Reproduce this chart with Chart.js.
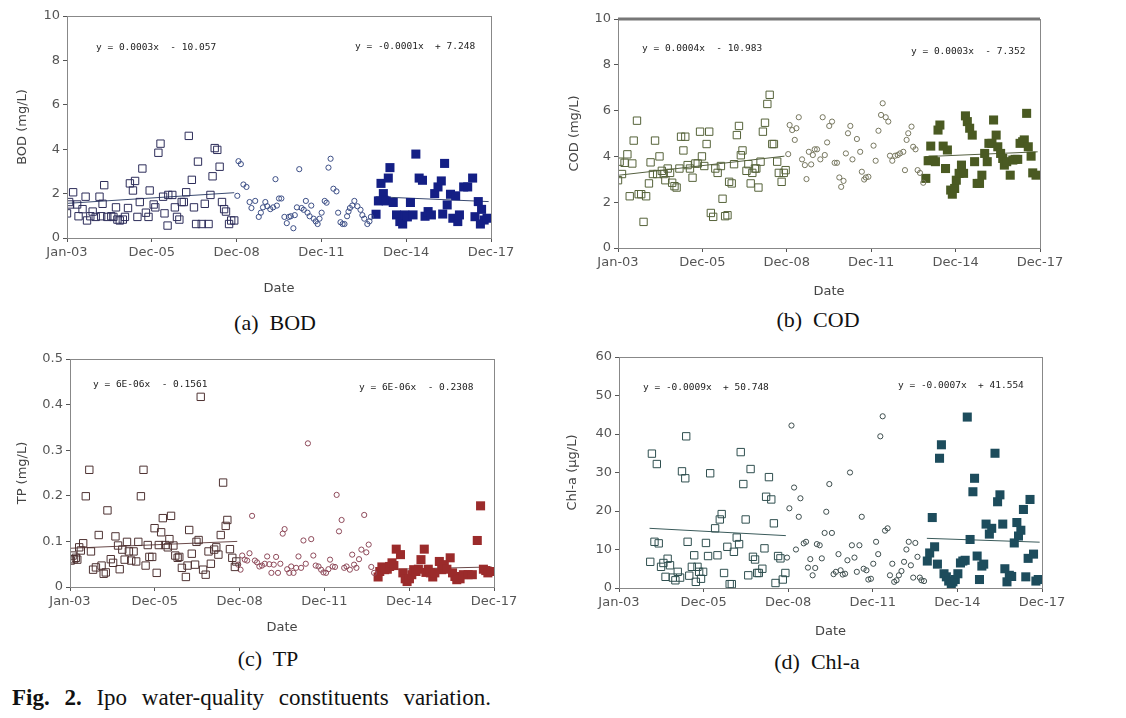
<!DOCTYPE html>
<html>
<head>
<meta charset="utf-8">
<script src="https://cdn.jsdelivr.net/npm/chart.js@4.4.1/dist/chart.umd.min.js"></script>
<style>
  body { margin: 0; background: #fff; width: 1126px; height: 718px; position: relative; overflow: hidden; }
  canvas { position: absolute; }
  .eq { position: absolute; font: 9.5px "DejaVu Sans Mono", monospace; color: #222; white-space: pre; }
  .cap { position: absolute; font: 22px "Liberation Serif", serif; color: #111; white-space: pre; transform: translateX(-50%); }
  .fig { position: absolute; left: 12px; top: 685px; font: 23px "Liberation Serif", serif; color: #111; word-spacing: 9px; white-space: nowrap; }
</style>
</head>
<body>
<canvas id="bod" width="530" height="300" style="left:0px;top:0px"></canvas>
<canvas id="cod" width="530" height="300" style="left:551px;top:0px"></canvas>
<canvas id="tp" width="530" height="300" style="left:3px;top:340px"></canvas>
<canvas id="chl" width="530" height="300" style="left:552px;top:340px"></canvas>

<div class="eq" style="left:96px;top:41px">y = 0.0003x  - 10.057</div>
<div class="eq" style="left:355px;top:40px">y = -0.0001x  + 7.248</div>
<div class="eq" style="left:642px;top:42px">y = 0.0004x  - 10.983</div>
<div class="eq" style="left:911px;top:45px">y = 0.0003x  - 7.352</div>
<div class="eq" style="left:93px;top:378px">y = 6E-06x  - 0.1561</div>
<div class="eq" style="left:359px;top:381px">y = 6E-06x  - 0.2308</div>
<div class="eq" style="left:643px;top:381px">y = -0.0009x  + 50.748</div>
<div class="eq" style="left:898px;top:379px">y = -0.0007x  + 41.554</div>

<div class="cap" style="left:275px;top:310px">(a)  BOD</div>
<div class="cap" style="left:818px;top:307px">(b)  COD</div>
<div class="cap" style="left:268px;top:646px">(c)  TP</div>
<div class="cap" style="left:817px;top:649px">(d)  Chl-a</div>
<div class="fig"><b>Fig. 2.</b> Ipo water-quality constituents variation.</div>

<script>
// x = months since Jan 2003; axis ticks every 36 months
const xTickPos = [0, 36, 72, 108, 144, 180];
const xTickLabels = ["Jan-03", "Dec-05", "Dec-08", "Dec-11", "Dec-14", "Dec-17"];

// BOD (mg/L): [month, value]
const bodPeriod1 = [[0,1.11],[0.9,1.62],[1.3,1.51],[2.6,2.06],[4.3,1.51],[4.9,0.98],[6.6,1.30],[7.9,1.86],[8.5,0.79],[9.9,0.98],[10.9,1.19],[12.2,0.95],[13.8,1.86],[14.5,0.98],[15.1,1.54],[15.8,2.38],[17.1,0.95],[18.8,0.98],[19.7,0.95],[20.8,1.38],[21.4,0.83],[22.4,0.79],[23.7,0.83],[24.6,0.95],[25.9,1.35],[26.7,2.46],[28.0,2.14],[28.9,2.57],[29.9,0.95],[30.9,1.62],[32.0,3.13],[33.5,1.14],[34.6,0.95],[35.1,2.14],[36.8,1.51],[37.5,1.38],[38.8,3.84],[39.7,4.25],[40.8,1.86],[41.4,1.11],[42.7,0.56],[43.0,1.94],[44.7,1.94],[45.8,1.38],[46.7,0.95],[47.7,0.83],[48.7,1.62],[49.6,1.62],[50.6,2.06],[51.7,4.60],[53.0,2.62],[53.9,1.38],[54.8,0.63],[55.6,3.44],[57.2,0.63],[58.5,1.54],[60.1,0.63],[60.9,1.94],[61.8,2.78],[62.7,4.05],[63.8,3.97],[64.8,3.21],[65.8,1.62],[66.7,1.30],[67.5,1.19],[68.8,0.63],[69.7,0.79],[71.0,0.79]];
const bodPeriod2 = [[72.3,1.90],[72.8,3.46],[73.8,3.33],[74.9,2.41],[76.2,2.30],[77.5,1.62],[78.3,1.35],[79.9,1.67],[81.4,0.95],[82.3,1.14],[83.2,1.38],[84.2,1.62],[85.0,1.43],[86.3,1.30],[87.5,1.38],[88.5,2.65],[89.1,1.46],[90.0,1.78],[91.0,1.78],[92.3,0.95],[93.3,0.67],[94.2,0.95],[95.0,0.98],[96.1,0.44],[96.7,1.03],[97.6,1.38],[98.6,3.10],[99.6,1.35],[100.5,1.27],[101.4,1.67],[102.1,1.14],[103.0,0.98],[103.7,1.46],[104.7,0.87],[105.6,0.75],[106.4,0.63],[107.2,0.87],[108.1,1.14],[109.4,1.67],[110.2,1.59],[111.0,3.17],[111.9,3.57],[113.1,2.22],[114.4,2.10],[115.1,1.14],[116.1,0.71],[117.0,0.63],[117.8,0.63],[118.9,0.98],[119.5,1.19],[120.1,1.35],[121.1,1.46],[122.0,1.67],[123.3,1.43],[124.6,1.27],[125.4,1.03],[126.2,0.87],[127.5,0.63],[128.4,0.75],[129.0,0.95]];
const bodPeriod3 = [[131.2,1.07],[132.2,1.67],[133.3,2.46],[134.3,2.0],[134.6,1.7],[135.5,1.67],[136.4,2.7],[137.1,3.17],[138.5,1.6],[139.9,1.04],[141.3,0.74],[142.5,0.63],[143.4,1.04],[144.5,0.95],[145.8,1.6],[146.9,1.04],[148.1,3.78],[149.5,2.7],[150.9,2.6],[152.0,0.98],[153.3,1.19],[154.7,1.04],[156.1,2.0],[157.5,2.3],[158.9,2.57],[159.5,1.08],[160.3,3.36],[161.4,1.49],[162.8,1.97],[163.8,0.89],[165.0,1.9],[165.9,0.74],[166.6,1.04],[168.4,2.3],[170.1,2.3],[172.2,2.7],[173.2,0.96],[174.6,1.64],[175.5,0.63],[176.0,1.29],[177.1,0.81],[178.3,0.89]];
const bodTrend1 = [[0,1.56],[71,2.04]];
const bodTrend2 = [[131,1.86],[179,1.64]];

// COD (mg/L)
const codPeriod1 = [[0,2.96],[0.7,3.77],[1.7,3.23],[2.8,3.72],[4.0,4.09],[5.0,2.26],[6.1,3.69],[6.7,4.69],[8.1,5.56],[8.8,2.35],[9.9,2.35],[10.9,1.14],[12.0,2.26],[13.2,2.82],[13.9,3.74],[14.9,3.23],[15.8,4.69],[16.7,3.23],[17.7,4.0],[18.7,3.37],[19.5,3.23],[20.2,2.96],[21.2,3.47],[22.2,3.28],[23.1,2.85],[24.1,2.7],[25.0,2.64],[26.2,3.47],[26.9,4.86],[27.9,4.26],[28.7,4.86],[29.7,3.62],[30.7,3.47],[31.8,3.07],[33.0,3.69],[34.0,3.69],[35.0,5.08],[35.8,4.0],[36.8,3.58],[37.8,4.54],[38.9,5.08],[39.6,1.53],[40.6,1.36],[41.5,3.47],[42.5,3.28],[43.9,3.58],[44.6,2.15],[45.7,1.39],[46.7,1.43],[47.4,2.89],[48.5,2.82],[49.5,3.66],[50.7,4.93],[51.6,5.33],[52.4,4.05],[53.1,4.26],[54.8,3.37],[55.6,3.66],[56.6,2.82],[57.3,3.28],[58.4,3.47],[59.0,3.47],[59.9,2.64],[60.8,3.77],[61.8,5.08],[62.7,5.47],[63.7,6.29],[64.7,6.69],[65.8,4.54],[66.5,4.54],[67.9,3.77],[68.6,3.28],[69.8,2.89],[70.7,3.28],[71.5,3.4]];
const codPeriod2 = [[72.6,4.1],[73.2,5.37],[74.3,5.15],[75.4,4.72],[76.1,5.23],[77.1,5.71],[78.5,3.87],[79.7,3.62],[80.4,3.01],[81.4,4.2],[82.4,3.65],[83.1,4.06],[83.9,4.31],[84.9,4.31],[86.3,3.87],[87.3,5.71],[88.2,4.06],[89.2,4.61],[90.1,5.33],[91.3,5.52],[92.4,3.72],[93.4,3.72],[94.4,3.08],[95.2,2.67],[96.2,2.93],[97.2,4.13],[98.1,5.01],[99.1,5.33],[100.0,3.87],[101.9,4.76],[103.3,4.2],[104.0,3.33],[105.0,2.99],[105.7,3.08],[106.8,3.11],[109.0,4.47],[109.9,3.81],[111.1,5.12],[112.2,5.81],[112.9,6.32],[114.2,5.71],[115.3,5.52],[116.0,4.03],[117.0,3.81],[118.2,4.03],[119.3,4.06],[120.3,4.13],[121.7,4.2],[122.4,3.4],[123.1,4.72],[123.8,5.01],[125.2,5.3],[125.9,4.42],[126.9,4.31],[127.8,3.4],[128.8,3.28],[130.2,2.85]];
const codPeriod3 = [[131.3,3.04],[132.3,3.81],[133.4,4.45],[134.4,3.84],[135.4,3.77],[136.5,5.15],[137.3,5.37],[138.7,4.45],[139.7,3.47],[140.5,4.28],[141.9,2.53],[142.6,2.35],[143.6,2.6],[144.3,2.96],[145.5,3.26],[146.5,3.62],[147.4,3.26],[148.2,5.77],[149.0,5.52],[150.0,5.23],[151.1,4.93],[152.1,3.77],[153.2,2.82],[154.2,2.82],[155.2,3.18],[156.4,4.13],[157.5,3.77],[158.2,4.57],[159.5,4.57],[160.2,5.59],[161.3,4.93],[162.0,4.42],[163.2,4.13],[164.1,3.91],[164.8,3.62],[165.8,3.77],[167.3,3.18],[168.4,3.84],[169.4,3.87],[170.5,3.87],[171.5,4.57],[172.6,4.64],[173.3,4.72],[174.3,5.88],[175.0,4.42],[176.2,4.01],[176.9,3.28],[178.3,3.18]];
const codTrend1 = [[0.5,3.18],[71,4.01]];
const codTrend2 = [[131,3.99],[179,4.2]];

// TP (mg/L)
const tpPeriod1 = [[0.3,0.058],[1.1,0.069],[1.7,0.061],[2.5,0.064],[3.1,0.060],[3.9,0.087],[4.6,0.080],[5.6,0.096],[6.7,0.199],[8.2,0.257],[8.9,0.078],[9.8,0.038],[11.0,0.043],[12.2,0.114],[13.4,0.047],[14.3,0.029],[15.2,0.032],[15.9,0.168],[17.3,0.061],[18.3,0.053],[19.3,0.111],[20.4,0.091],[21.1,0.039],[22.2,0.082],[23.2,0.060],[24.2,0.099],[25.0,0.078],[26.0,0.058],[27.0,0.078],[28.1,0.056],[29.0,0.099],[30.1,0.199],[31.2,0.257],[32.1,0.047],[33.0,0.092],[33.7,0.066],[34.9,0.066],[35.9,0.129],[36.8,0.031],[37.7,0.092],[38.7,0.120],[39.4,0.151],[40.5,0.092],[41.5,0.087],[42.2,0.105],[42.9,0.156],[43.9,0.091],[44.7,0.069],[45.7,0.064],[46.4,0.066],[47.5,0.042],[49.2,0.022],[49.9,0.047],[50.6,0.125],[51.7,0.073],[53.1,0.049],[53.7,0.099],[54.6,0.103],[55.5,0.417],[56.5,0.038],[57.6,0.027],[58.8,0.078],[59.8,0.051],[61.2,0.082],[62.1,0.087],[63.0,0.071],[64.0,0.114],[65.0,0.229],[66.1,0.134],[66.8,0.147],[67.9,0.083],[68.9,0.064],[70.0,0.044],[70.6,0.056]];
const tpPeriod2 = [[71.4,0.049],[72.4,0.038],[73.1,0.069],[74.2,0.060],[75.2,0.058],[76.2,0.074],[77.3,0.156],[78.5,0.058],[79.4,0.054],[80.4,0.045],[81.5,0.047],[82.7,0.051],[83.7,0.067],[84.6,0.050],[85.5,0.031],[86.5,0.049],[87.5,0.066],[88.3,0.031],[89.3,0.051],[90.3,0.117],[91.1,0.127],[92.2,0.039],[93.1,0.031],[93.9,0.045],[94.9,0.031],[96.0,0.042],[97.0,0.067],[98.1,0.042],[99.1,0.102],[100.1,0.051],[101.0,0.315],[102.4,0.105],[103.3,0.069],[104.3,0.047],[105.5,0.045],[106.6,0.038],[107.6,0.032],[108.7,0.031],[109.7,0.039],[110.4,0.060],[111.5,0.045],[112.5,0.044],[113.2,0.202],[114.2,0.122],[115.3,0.147],[116.4,0.042],[117.4,0.045],[118.8,0.038],[119.8,0.071],[120.6,0.049],[121.6,0.042],[122.7,0.061],[123.7,0.082],[124.9,0.158],[125.8,0.076],[126.8,0.093],[127.9,0.044],[129.1,0.031]];
const tpPeriod3 = [[130.8,0.022],[131.5,0.034],[132.4,0.044],[133.6,0.038],[134.7,0.039],[135.7,0.045],[136.7,0.053],[137.5,0.047],[138.5,0.083],[140.3,0.071],[141.3,0.031],[142.3,0.018],[143.1,0.012],[144.1,0.018],[145.1,0.027],[145.9,0.038],[146.9,0.034],[147.9,0.039],[149.0,0.060],[150.4,0.083],[151.1,0.032],[152.1,0.039],[153.0,0.031],[154.0,0.022],[154.9,0.031],[156.8,0.056],[157.8,0.038],[158.9,0.049],[160.0,0.039],[161.4,0.064],[162.4,0.031],[163.4,0.023],[164.2,0.016],[165.6,0.018],[167.0,0.027],[169.0,0.027],[170.8,0.027],[172.9,0.102],[174.3,0.178],[175.5,0.039],[176.5,0.036],[177.4,0.031],[178.6,0.034]];
const tpTrend1 = [[0.3,0.085],[71,0.100]];
const tpTrend2 = [[131,0.038],[179,0.044]];

// Chl-a (ug/L)
const chlPeriod1 = [[13.3,6.8],[14.0,34.9],[15.1,12.0],[16.1,32.2],[16.9,11.6],[17.9,5.5],[18.9,6.5],[19.8,2.9],[20.7,7.6],[21.7,5.9],[22.9,2.7],[24.0,2.0],[25.0,4.2],[26.0,2.7],[26.8,30.3],[28.2,28.5],[28.6,39.4],[29.2,12.0],[29.9,3.2],[31.0,5.5],[32.0,8.5],[32.7,1.6],[33.4,5.5],[34.1,4.2],[34.9,2.4],[35.8,4.2],[37.0,11.7],[37.9,8.3],[38.8,29.8],[40.9,15.5],[41.9,8.5],[42.9,17.8],[43.7,19.2],[44.7,3.9],[46.1,10.7],[47.1,1.0],[48.0,1.0],[48.9,9.4],[50.1,13.1],[51.1,11.4],[51.8,35.3],[52.9,27.0],[53.9,17.8],[55.0,3.3],[56.0,30.9],[57.0,8.1],[57.9,7.4],[58.8,3.9],[59.5,3.9],[61.0,5.0],[61.9,10.3],[62.6,23.7],[63.8,28.8],[64.8,23.0],[65.9,16.8],[66.6,1.3],[67.7,8.3],[68.7,7.7],[69.7,2.2],[70.8,3.9]];
const chlPeriod2 = [[71.5,7.9],[72.5,20.7],[73.4,42.2],[74.5,26.1],[75.3,10.0],[76.5,18.5],[77.2,23.3],[78.6,11.6],[79.6,12.0],[80.4,5.3],[81.4,7.5],[82.4,3.3],[83.5,5.2],[84.2,11.4],[85.4,11.1],[86.3,7.7],[87.5,14.3],[88.2,19.8],[89.5,27.0],[90.6,14.3],[91.3,3.6],[92.3,4.2],[93.4,8.8],[94.3,4.6],[95.2,3.5],[96.2,3.7],[97.2,7.2],[98.3,30.0],[99.1,11.1],[100.2,7.9],[101.2,4.2],[102.3,11.1],[103.3,18.5],[104.1,5.0],[105.3,4.6],[106.1,2.2],[107.2,2.4],[108.2,6.3],[109.4,12.0],[110.3,8.8],[111.2,39.4],[112.2,44.6],[113.2,14.9],[114.3,15.5],[115.3,3.3],[116.3,6.3],[117.1,1.6],[118.1,2.0],[119.1,3.3],[120.2,4.4],[121.3,6.8],[122.3,10.0],[123.3,12.0],[124.2,5.9],[125.2,2.7],[126.1,11.7],[127.0,8.1],[128.0,2.7],[128.7,2.0],[129.8,1.8]];
const chlPeriod3 = [[131.2,7.0],[132.2,9.1],[133.3,18.3],[134.3,10.7],[135.5,6.2],[136.4,33.7],[137.2,37.2],[138.3,3.7],[139.3,2.9],[140.3,1.8],[141.4,0.7],[142.1,1.6],[143.1,2.2],[144.2,3.7],[145.3,6.5],[146.3,7.0],[147.3,7.2],[148.2,44.4],[149.4,12.6],[150.6,25.0],[151.3,28.5],[152.4,8.3],[153.4,2.2],[154.4,5.7],[155.2,6.2],[156.2,16.6],[157.6,14.0],[158.6,15.5],[160.0,35.0],[161.1,22.4],[162.1,24.2],[163.3,16.6],[164.2,5.0],[165.1,1.6],[166.1,3.3],[167.1,3.0],[168.2,11.7],[169.3,17.0],[170.0,13.5],[171.0,15.0],[172.1,20.4],[173.1,2.9],[174.1,7.7],[174.9,23.0],[176.4,8.8],[177.4,1.8],[178.4,2.2]];
const chlTrend1 = [[13,15.5],[71,13.6]];
const chlTrend2 = [[131,12.9],[179,11.9]];

const pts = arr => arr.map(p => ({ x: p[0], y: p[1] }));

// box round the plot area
const frame = {
  id: "frame",
  afterDraw(chart, args, opts) {
    const a = chart.chartArea, c = chart.ctx;
    c.save();
    c.strokeStyle = "#888";
    c.lineWidth = 1;
    c.strokeRect(a.left + 0.5, a.top + 0.5, a.right - a.left, a.bottom - a.top);
    if (opts.topWidth) {
      c.lineWidth = opts.topWidth;
      c.strokeStyle = "#777";
      c.beginPath();
      c.moveTo(a.left, a.top);
      c.lineTo(a.right, a.top);
      c.stroke();
    }
    c.restore();
  }
};

function panel(id, p) {
  const axisGrid = { display: true, drawOnChartArea: false, drawTicks: true, tickLength: 4, color: "#555" };
  const font = { family: "DejaVu Sans", size: 13 };
  new Chart(document.getElementById(id), {
    type: "scatter",
    data: {
      datasets: [
        { data: pts(p.s1), pointStyle: "rect", pointRadius: 5.2, pointBorderWidth: 1,
          borderColor: p.c1, backgroundColor: "rgba(255,255,255,0)" },
        { data: pts(p.s2), pointStyle: "circle", pointRadius: 2.6, pointBorderWidth: 1,
          borderColor: p.c2, backgroundColor: "rgba(255,255,255,0)" },
        { data: pts(p.s3), pointStyle: "rect", pointRadius: 6.4, pointBorderWidth: 0,
          borderColor: p.c3, backgroundColor: p.c3 },
        { data: pts(p.t1), showLine: true, pointRadius: 0, borderWidth: 1, borderColor: p.tc },
        { data: pts(p.t2), showLine: true, pointRadius: 0, borderWidth: 1, borderColor: p.tc }
      ]
    },
    options: {
      responsive: false,
      animation: false,
      devicePixelRatio: 1,
      layout: { padding: { top: p.padTop, right: p.padRight, left: 0, bottom: 0 } },
      plugins: { legend: { display: false }, tooltip: { enabled: false }, frame: { topWidth: p.topWidth || 0 } },
      scales: {
        x: {
          type: "linear", min: 0, max: 180,
          afterBuildTicks: s => { s.ticks = xTickPos.map(v => ({ value: v })); },
          afterFit: s => { s.height = p.xHeight; },
          ticks: { autoSkip: false, maxRotation: 0, padding: 3, color: "#555", font,
                   callback: (v, i) => xTickLabels[i] },
          grid: axisGrid,
          border: { display: true, color: "#555" },
          title: { display: true, text: "Date", color: "#444", font,
                   padding: { top: 0, bottom: p.xTitlePad } }
        },
        y: {
          min: 0, max: p.yMax,
          afterFit: s => { s.width = 67; },
          ticks: { stepSize: p.yStep, padding: 3, color: "#555", font },
          grid: axisGrid,
          border: { display: true, color: "#555" },
          title: { display: true, text: p.yTitle, color: "#444", font,
                   padding: { top: p.yTitlePad, bottom: 0 } }
        }
      }
    },
    plugins: [frame]
  });
}

panel("bod", { s1: bodPeriod1, s2: bodPeriod2, s3: bodPeriod3, t1: bodTrend1, t2: bodTrend2,
  c1: "#2d2d5a", c2: "#3d4f86", c3: "#141f85", tc: "#3a4a70",
  yMax: 10, yStep: 2, yTitle: "BOD (mg/L)",
  padTop: 16, padRight: 39, xHeight: 62, xTitlePad: 4, yTitlePad: 15 });

panel("cod", { s1: codPeriod1, s2: codPeriod2, s3: codPeriod3, t1: codTrend1, t2: codTrend2,
  c1: "#56633a", c2: "#77775f", c3: "#4a5a22", tc: "#556040",
  yMax: 10, yStep: 2, yTitle: "COD (mg/L)",
  padTop: 19, padRight: 41, xHeight: 52, xTitlePad: 1, yTitlePad: 16, topWidth: 3 });

panel("tp", { s1: tpPeriod1, s2: tpPeriod2, s3: tpPeriod3, t1: tpTrend1, t2: tpTrend2,
  c1: "#4f3333", c2: "#8e4a5a", c3: "#9b2b2b", tc: "#6a4a4a",
  yMax: 0.5, yStep: 0.1, yTitle: "TP (mg/L)",
  padTop: 19, padRight: 39, xHeight: 53, xTitlePad: 5, yTitlePad: 12 });

panel("chl", { s1: chlPeriod1, s2: chlPeriod2, s3: chlPeriod3, t1: chlTrend1, t2: chlTrend2,
  c1: "#2f4f4f", c2: "#3e4e4e", c3: "#1d4c5c", tc: "#3a5a5a",
  yMax: 60, yStep: 10, yTitle: "Chl-a (\u00b5g/L)",
  padTop: 17, padRight: 40, xHeight: 52, xTitlePad: 1, yTitlePad: 13 });
</script>
</body>
</html>
